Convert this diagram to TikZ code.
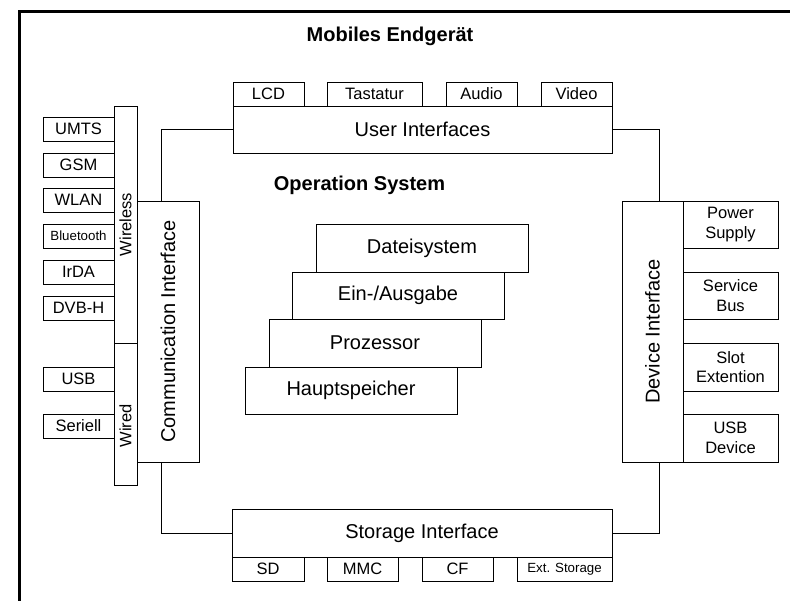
\documentclass[tikz,border=0pt]{standalone}
\usepackage{fontspec}
\setmainfont{Liberation Sans}
\usetikzlibrary{calc}
\begin{document}
\begin{tikzpicture}[x=1pt,y=-1pt,
  box/.style={draw, line width=0.9pt, inner sep=0pt, outer sep=0pt, anchor=north west, align=center},
  big/.style={font=\fontsize{20}{24}\selectfont},
  small/.style={font=\fontsize{16.5}{19.5}\selectfont},
  tiny/.style={font=\fontsize{13.3}{16}\selectfont},
  heading/.style={font=\fontsize{20}{24}\selectfont\bfseries, anchor=base, inner sep=0pt},
  wire/.style={line width=0.9pt}]
\useasboundingbox (0,0) rectangle (790,600);
\clip (0,0) rectangle (790,600);

% outer frame of the device
\draw[line width=3pt] (19,620) -- (19,11) -- (820,11);

\node[heading] (title) at (390,41) {Mobiles Endgerät};
\node[heading] (os) at (359.5,190) {Operation System};

% user interfaces
\node[box, big, minimum width=379, minimum height=47] (ui) at (233,106) {User Interfaces};
\node[box, small, minimum width=71, minimum height=24] (lcd) at (233,82) {LCD};
\node[box, small, minimum width=95, minimum height=24] (tast) at (327,82) {Tastatur};
\node[box, small, minimum width=71, minimum height=24] (audio) at (446,82) {Audio};
\node[box, small, minimum width=71, minimum height=24] (video) at (541,82) {Video};

% storage interface
\node[box, big, minimum width=380, minimum height=48] (st) at (232,509) {Storage Interface};
\node[box, small, minimum width=72, minimum height=24] (sd) at (232,557) {SD};
\node[box, small, minimum width=71, minimum height=24] (mmc) at (327,557) {MMC};
\node[box, small, minimum width=71, minimum height=24] (cf) at (422,557) {CF};
\node[box, tiny, minimum width=95, minimum height=24] (ext) at (517,557) {Ext. Storage};

% communication interface
\node[box, big, minimum width=62, minimum height=261] (comm) at (137,201) {\rotatebox{90}{Communication Interface}};
\node[box, small, minimum width=23, minimum height=237] (wl) at (114,106) {\rotatebox{90}{Wireless}};
\node[box, small, minimum width=23, minimum height=142] (wd) at (114,343) {\rotatebox{90}{Wired\hspace*{24pt}}};
\node[box, small, minimum width=71, minimum height=24] (umts) at (43,117) {UMTS};
\node[box, small, minimum width=71, minimum height=24] (gsm) at (43,153) {GSM};
\node[box, small, minimum width=71, minimum height=24] (wlan) at (43,188) {WLAN};
\node[box, tiny, minimum width=71, minimum height=24] (bt) at (43,224) {Bluetooth};
\node[box, small, minimum width=71, minimum height=24] (irda) at (43,260) {IrDA};
\node[box, small, minimum width=71, minimum height=24] (dvbh) at (43,296) {DVB-H};
\node[box, small, minimum width=71, minimum height=24] (usb) at (43,367) {USB};
\node[box, small, minimum width=71, minimum height=24] (ser) at (43,414) {Seriell};

% device interface
\node[box, big, minimum width=61, minimum height=261] (dev) at (622,201) {\rotatebox{90}{Device Interface}};
\node[box, small, minimum width=95, minimum height=47] (pwr) at (683,201) {Power\\Supply};
\node[box, small, minimum width=95, minimum height=47] (sbus) at (683,272) {Service\\Bus};
\node[box, small, minimum width=95, minimum height=48] (slot) at (683,343) {Slot\\Extention};
\node[box, small, minimum width=95, minimum height=48] (usbd) at (683,414) {USB\\Device};

% operation system layers
\node[box, big, minimum width=212, minimum height=48] (fs) at (316,224) {Dateisystem};
\node[box, big, minimum width=212, minimum height=47] (io) at (292,272) {Ein-/Ausgabe};
\node[box, big, minimum width=212, minimum height=48] (cpu) at (269,319) {Prozessor};
\node[box, big, minimum width=212, minimum height=47] (mem) at (245,367) {Hauptspeicher};

% connectors between the interfaces
\draw[wire] (ui.west) -| ($(comm.north west)+(24,0)$);
\draw[wire] (st.west) -| ($(comm.south west)+(24,0)$);
\draw[wire] (ui.east) -| ($(dev.north west)+(37,0)$);
\draw[wire] (st.east) -| ($(dev.south west)+(37,0)$);
\end{tikzpicture}
\end{document}
